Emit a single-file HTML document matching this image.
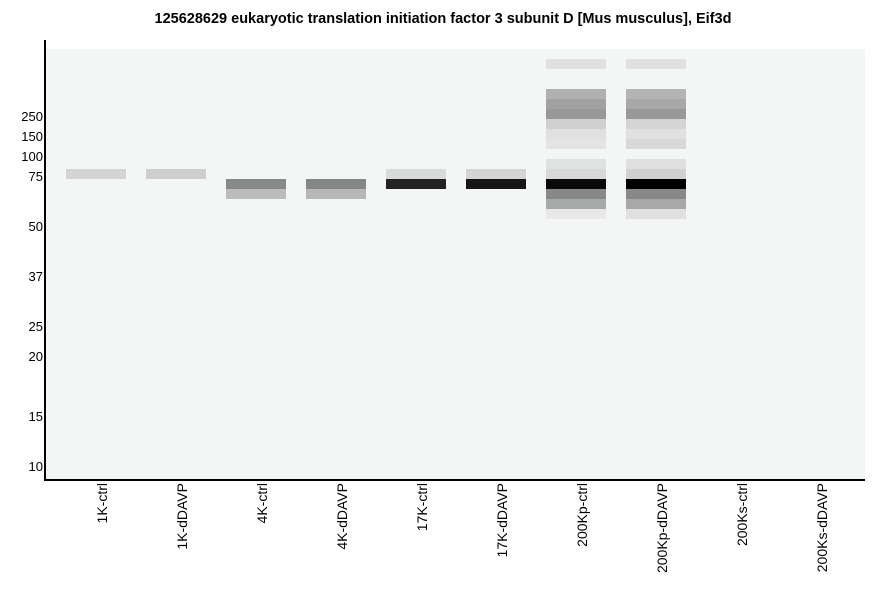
<!DOCTYPE html>
<html><head><style>
body{margin:0;width:886px;height:595px;background:#fff;position:relative;overflow:hidden;font-family:"Liberation Sans",sans-serif}
.t{position:absolute;left:0;width:886px;top:11px;text-align:center;font-weight:bold;font-size:14.5px}
.plot{position:absolute;left:46px;top:49px;width:819px;height:430px;background:#f4f5f5}
.b{position:absolute;width:60px;height:10px}
.yl{position:absolute;right:843px;font-size:13px;color:#000;line-height:13px}
.xl{position:absolute;top:483px;font-size:14px;writing-mode:vertical-rl;transform:rotate(180deg);white-space:nowrap}
</style></head><body>
<div class="t">125628629 eukaryotic translation initiation factor 3 subunit D [Mus musculus], Eif3d</div>
<div class="plot"></div>
<div style="position:absolute;left:44px;top:40px;width:2px;height:441px;background:#000"></div>
<div style="position:absolute;left:44px;top:479px;width:821px;height:2px;background:#000"></div>
<div class="yl" style="top:110px">250</div>
<div class="yl" style="top:130px">150</div>
<div class="yl" style="top:150px">100</div>
<div class="yl" style="top:170px">75</div>
<div class="yl" style="top:220px">50</div>
<div class="yl" style="top:270px">37</div>
<div class="yl" style="top:320px">25</div>
<div class="yl" style="top:350px">20</div>
<div class="yl" style="top:410px">15</div>
<div class="yl" style="top:460px">10</div>
<div class="b" style="left:66px;top:169px;background:#d4d4d4"></div>
<div class="b" style="left:146px;top:169px;background:#cecece"></div>
<div class="b" style="left:226px;top:179px;background:#888a89"></div>
<div class="b" style="left:226px;top:189px;background:#bcbcbc"></div>
<div class="b" style="left:306px;top:179px;background:#858786"></div>
<div class="b" style="left:306px;top:189px;background:#b6b7b6"></div>
<div class="b" style="left:386px;top:169px;background:#d9dada"></div>
<div class="b" style="left:386px;top:179px;background:#232323"></div>
<div class="b" style="left:466px;top:169px;background:#d4d4d4"></div>
<div class="b" style="left:466px;top:179px;background:#161616"></div>
<div class="b" style="left:546px;top:59px;background:#e0e0e0"></div>
<div class="b" style="left:546px;top:89px;background:#b0b0b0"></div>
<div class="b" style="left:546px;top:99px;background:#a0a2a2"></div>
<div class="b" style="left:546px;top:109px;background:#989898"></div>
<div class="b" style="left:546px;top:119px;background:#d0d0d0"></div>
<div class="b" style="left:546px;top:129px;background:#e0e0e0"></div>
<div class="b" style="left:546px;top:139px;background:#e4e4e4"></div>
<div class="b" style="left:546px;top:159px;background:#e0e2e2"></div>
<div class="b" style="left:546px;top:169px;background:#d8d8d8"></div>
<div class="b" style="left:546px;top:179px;background:#0a0a0a"></div>
<div class="b" style="left:546px;top:189px;background:#888"></div>
<div class="b" style="left:546px;top:199px;background:#a8aaaa"></div>
<div class="b" style="left:546px;top:209px;background:#e8e8e8"></div>
<div class="b" style="left:626px;top:59px;background:#e0e0e0"></div>
<div class="b" style="left:626px;top:89px;background:#b4b4b4"></div>
<div class="b" style="left:626px;top:99px;background:#a8a8a8"></div>
<div class="b" style="left:626px;top:109px;background:#989898"></div>
<div class="b" style="left:626px;top:119px;background:#d4d4d4"></div>
<div class="b" style="left:626px;top:129px;background:#e0e0e0"></div>
<div class="b" style="left:626px;top:139px;background:#d8d8d8"></div>
<div class="b" style="left:626px;top:159px;background:#e0e0e0"></div>
<div class="b" style="left:626px;top:169px;background:#d0d0d0"></div>
<div class="b" style="left:626px;top:179px;background:#000"></div>
<div class="b" style="left:626px;top:189px;background:#888"></div>
<div class="b" style="left:626px;top:199px;background:#a8a8a8"></div>
<div class="b" style="left:626px;top:209px;background:#e0e0e0"></div>
<div class="xl" style="left:94px">1K-ctrl</div>
<div class="xl" style="left:174px">1K-dDAVP</div>
<div class="xl" style="left:254px">4K-ctrl</div>
<div class="xl" style="left:334px">4K-dDAVP</div>
<div class="xl" style="left:414px">17K-ctrl</div>
<div class="xl" style="left:494px">17K-dDAVP</div>
<div class="xl" style="left:574px">200Kp-ctrl</div>
<div class="xl" style="left:654px">200Kp-dDAVP</div>
<div class="xl" style="left:734px">200Ks-ctrl</div>
<div class="xl" style="left:814px">200Ks-dDAVP</div>
</body></html>
